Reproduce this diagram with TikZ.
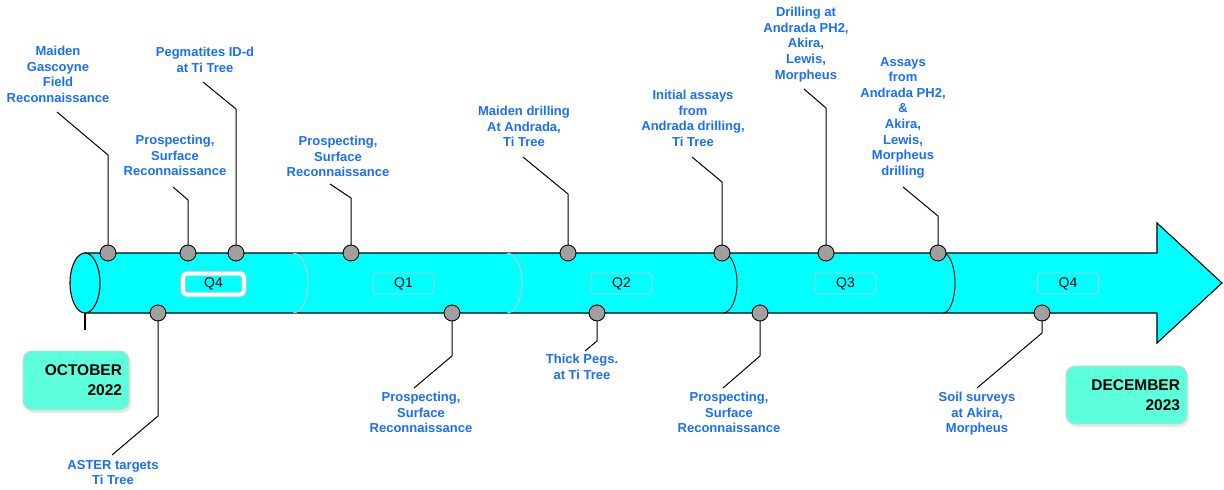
\documentclass[tikz,border=0pt]{standalone}
\usepackage{fontspec}
\setmainfont{Liberation Sans}
\usetikzlibrary{shadows}
\definecolor{lblue}{RGB}{25,110,255}
\definecolor{cyanfill}{RGB}{0,255,255}
\definecolor{dotgray}{RGB}{160,160,160}
\definecolor{aquabox}{RGB}{92,255,220}
\newcommand\lblfont{\fontsize{13}{15.6}\selectfont\bfseries}
\newcommand\qlfont{\fontsize{14}{16}\selectfont}
\newcommand\dtfont{\fontsize{15.5}{20}\selectfont\bfseries}
\tikzset{
  lbl/.style={font=\lblfont, text=lblue, align=center, anchor=north, inner sep=0pt},
  dotnode/.style={circle, fill=dotgray, draw=black, line width=0.9pt, minimum size=16pt, inner sep=0pt},
  lead/.style={draw=black, line width=1pt},
  qbox/.style={rounded corners=4pt, draw=gray!45, line width=0.8pt, minimum width=61pt, minimum height=21pt, font=\qlfont, inner sep=0pt},
  datebox/.style={rounded corners=9pt, fill=aquabox, draw=gray!35, line width=0.8pt, font=\dtfont, align=right, inner xsep=7pt, inner ysep=0pt,
    drop shadow={opacity=0.18, shadow xshift=2pt, shadow yshift=-3pt}},
  qarc/.style={line width=0.9pt},
  body/.style={fill=cyanfill, draw=black, line width=1.1pt, line join=miter}
}
\begin{document}
\begin{tikzpicture}[x=1pt,y=1pt]
\useasboundingbox (0,0) rectangle (1224,-490);

% arrow body
\path[body] (85,-253) -- (1157,-253) -- (1157,-223) -- (1222,-283) -- (1157,-343) -- (1157,-313) -- (85,-313) -- cycle;
\draw[line width=1.1pt] (85,-313) -- (85,-330);
\path[body] (85,-283) ellipse [x radius=15, y radius=30];

% quarter dividers
\draw[qarc, gray!45] (293,-253) arc[start angle=90, end angle=-90, x radius=15, y radius=30];
\draw[qarc, gray!45] (507,-253) arc[start angle=90, end angle=-90, x radius=15, y radius=30];
\draw[qarc, black] (723,-253) arc[start angle=90, end angle=-90, x radius=14, y radius=30];
\draw[qarc, black] (943,-253) arc[start angle=90, end angle=-90, x radius=12, y radius=30];

% quarter labels
\node[qbox, draw=gray!40, double=white, double distance=3.5pt] (qa) at (213.5,-284) {Q4};
\node[qbox] (qb) at (403.5,-283.5) {Q1};
\node[qbox] (qc) at (621.5,-283.5) {Q2};
\node[qbox] (qd) at (845.5,-283.5) {Q3};
\node[qbox] (qe) at (1068,-283.5) {Q4};

% date boxes
\node[datebox, text width=92pt, minimum height=59pt] (oct) at (76,-380.5) {OCTOBER\\2022};
\node[datebox, text width=107pt, minimum height=58pt] (dec) at (1126.5,-395) {DECEMBER\\2023};

% leader coordinates
\coordinate (tk1) at (108,-155); \coordinate (te1) at (57,-112);
\coordinate (tk2) at (188,-200); \coordinate (te2) at (173,-187);
\coordinate (tk3) at (236,-109); \coordinate (te3) at (203,-82);
\coordinate (tk4) at (351,-198); \coordinate (te4) at (330,-184);
\coordinate (tk5) at (568,-194); \coordinate (te5) at (523,-157);
\coordinate (tk6) at (722,-182); \coordinate (te6) at (692,-157);
\coordinate (tk7) at (826,-108); \coordinate (te7) at (804,-89);
\coordinate (tk8) at (938,-216); \coordinate (te8) at (903,-187);
\coordinate (bk1) at (158,-416); \coordinate (be1) at (112,-455);
\coordinate (bk2) at (452,-356); \coordinate (be2) at (414,-388);
\coordinate (bk3) at (597,-341); \coordinate (be3) at (585,-351);
\coordinate (bk4) at (760,-356); \coordinate (be4) at (723,-388);
\coordinate (bk5) at (1042,-333); \coordinate (be5) at (977,-388);

% dot centres
\path (108,-253) coordinate (ct1) (188,-253) coordinate (ct2) (236,-253) coordinate (ct3)
      (351,-253) coordinate (ct4) (568,-253) coordinate (ct5) (722,-253) coordinate (ct6)
      (826,-253) coordinate (ct7) (938,-253) coordinate (ct8)
      (158,-313) coordinate (cb1) (452,-313) coordinate (cb2) (597,-313) coordinate (cb3)
      (760,-313) coordinate (cb4) (1042,-313) coordinate (cb5);

\foreach \i in {1,...,8} {\draw[lead] (ct\i) -- (tk\i) -- (te\i);}
\foreach \i in {1,...,5} {\draw[lead] (cb\i) -- (bk\i) -- (be\i);}

\foreach \i in {1,...,8} {\node[dotnode] (t\i) at (ct\i) {};}
\foreach \i in {1,...,5} {\node[dotnode] (b\i) at (cb\i) {};}

% labels
\node[lbl] (lt1) at (58,-46) {Maiden\\Gascoyne\\Field\\Reconnaissance};
\node[lbl] (lt2) at (175,-135) {Prospecting,\\Surface\\Reconnaissance};
\node[lbl] (lt3) at (205,-47) {Pegmatites ID-d\\at Ti Tree};
\node[lbl] (lt4) at (338,-136) {Prospecting,\\Surface\\Reconnaissance};
\node[lbl] (lt5) at (524,-106) {Maiden drilling\\At Andrada,\\Ti Tree};
\node[lbl] (lt6) at (693,-90) {Initial assays\\from\\Andrada drilling,\\Ti Tree};
\node[lbl] (lt7) at (806,-7) {Drilling at\\Andrada PH2,\\Akira,\\Lewis,\\Morpheus};
\node[lbl] (lt8) at (903,-57) {Assays\\from\\Andrada PH2,\\\&\\Akira,\\Lewis,\\Morpheus\\drilling};
\node[lbl] (lb1) at (113,-460) {ASTER targets\\Ti Tree};
\node[lbl] (lb2) at (421,-392) {Prospecting,\\Surface\\Reconnaissance};
\node[lbl] (lb3) at (582,-354) {Thick Pegs.\\at Ti Tree};
\node[lbl] (lb4) at (729,-392) {Prospecting,\\Surface\\Reconnaissance};
\node[lbl] (lb5) at (977,-392) {Soil surveys\\at Akira,\\Morpheus};
\end{tikzpicture}
\end{document}
